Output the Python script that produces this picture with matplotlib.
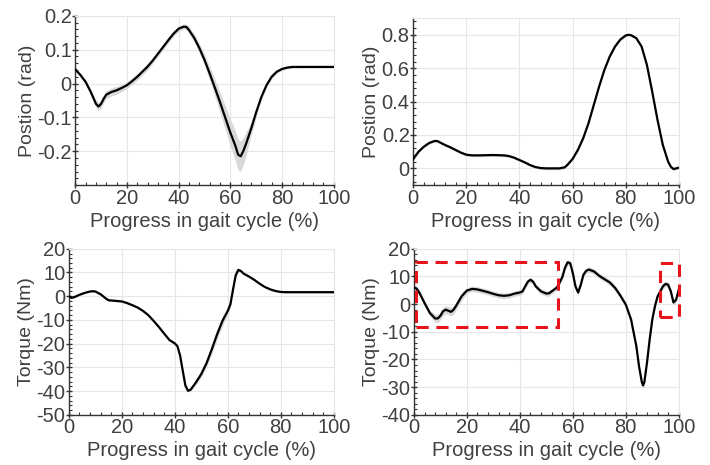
import numpy as np
import matplotlib
matplotlib.use('Agg')
from matplotlib import pyplot as plt
from matplotlib.ticker import AutoMinorLocator
from matplotlib.patches import Rectangle

plt.rcParams['font.family'] = ['Liberation Sans', 'DejaVu Sans']

# top left: hip position (rad)
hip_x = [0, 2, 4, 6, 8, 9, 10, 11, 12, 14, 16, 18, 20, 22, 24, 26, 28, 30, 32, 34, 36, 38, 40, 42, 43,
         44, 46, 48, 50, 52, 54, 56, 58, 60, 62, 63, 64, 65, 66, 68, 70, 72, 74, 76, 78, 80, 82, 84, 90, 100]
hip_pos = [0.042, 0.025, 0.005, -0.025, -0.06, -0.068, -0.06, -0.045, -0.033, -0.025, -0.02, -0.013, -0.005,
           0.007, 0.02, 0.035, 0.05, 0.068, 0.088, 0.108, 0.128, 0.147, 0.162, 0.168, 0.167,
           0.158, 0.135, 0.105, 0.07, 0.03, -0.012, -0.055, -0.1, -0.145, -0.185, -0.21, -0.215, -0.2, -0.18,
           -0.135, -0.085, -0.04, -0.005, 0.02, 0.035, 0.043, 0.047, 0.049, 0.049, 0.049]
hip_std = [0.005, 0.005, 0.006, 0.008, 0.012, 0.012, 0.012, 0.012, 0.012, 0.012, 0.012, 0.01, 0.01,
           0.01, 0.01, 0.01, 0.01, 0.008, 0.008, 0.008, 0.008, 0.008, 0.008, 0.008, 0.008,
           0.01, 0.012, 0.014, 0.016, 0.02, 0.025, 0.03, 0.035, 0.04, 0.045, 0.045, 0.045, 0.04, 0.035,
           0.02, 0.012, 0.008, 0.006, 0.006, 0.005, 0.004, 0.004, 0.004, 0.003, 0.003]

# top right: knee position (rad)
knee_x = [0, 2, 4, 6, 8, 9, 10, 12, 14, 16, 18, 20, 22, 25, 30, 34, 36, 38, 40, 42, 44, 46, 48, 50, 55,
          57, 58, 60, 62, 64, 66, 68, 70, 72, 74, 76, 78, 80, 81, 82, 84, 86, 88, 90, 92, 94, 96, 97, 98, 99, 100]
knee_pos = [0.056, 0.1, 0.13, 0.152, 0.164, 0.164, 0.156, 0.14, 0.126, 0.11, 0.094, 0.082, 0.078, 0.078,
            0.08, 0.078, 0.074, 0.064, 0.05, 0.036, 0.02, 0.008, 0.002, 0.0, 0.0,
            0.006, 0.02, 0.056, 0.11, 0.18, 0.27, 0.38, 0.49, 0.59, 0.67, 0.73, 0.772, 0.796, 0.8, 0.798,
            0.78, 0.73, 0.62, 0.46, 0.29, 0.14, 0.04, 0.01, -0.004, 0.0, 0.004]
knee_std = [0.008] * len(knee_x)

# bottom left: hip torque (Nm)
hipt_x = [0, 1, 2, 4, 6, 8, 9, 10, 12, 14, 15, 18, 20, 22, 24, 26, 28, 30, 32, 34, 36, 38, 40, 41, 42,
          43, 44, 45, 46, 48, 50, 52, 54, 56, 58, 60, 61, 62, 63, 64, 65, 66, 68, 70, 72, 74, 76, 78, 80,
          82, 90, 100]
hip_torque = [0, -0.7, -0.4, 0.6, 1.4, 2.0, 2.1, 2.0, 0.8, -1.0, -1.7, -2.0, -2.2, -2.9, -3.8, -4.8, -6.2,
              -8.0, -10.4, -13.0, -15.8, -18.5, -19.9, -21.1, -25.0, -31.4, -37.7, -39.9, -39.4, -36.3,
              -32.8, -28.2, -22.3, -16.0, -10.4, -6.2, -3.4, 2.9, 8.8, 11.1, 10.6, 9.5, 8.3, 6.9, 5.3, 3.9,
              2.9, 2.2, 1.8, 1.7, 1.7, 1.7]
hipt_std = [0.4] * 27 + [0.5, 0.6, 1.0, 1.4, 1.7, 1.9, 2.0, 2.0, 1.6, 1.2, 0.8, 0.6, 0.6] + [0.4] * 12

# bottom right: knee torque (Nm)
kneet_x = [0, 1, 2, 4, 6, 8, 9, 10, 11, 12, 13, 14, 15, 16, 18, 20, 22, 24, 26, 28, 30, 32, 34, 36, 38,
           40, 41, 42, 43, 44, 45, 46, 48, 50, 51, 52, 54, 55, 56, 57, 58, 59, 60, 61, 62, 63, 64, 65, 66,
           68, 70, 72, 74, 76, 78, 80, 82, 84, 85, 86, 86.5, 87, 88, 89, 90, 91, 92, 93, 94, 95, 96, 97,
           98, 99, 100]
knee_torque = [6.0, 5.6, 4.2, 0.4, -3.2, -5.2, -5.2, -4.2, -2.6, -2.0, -2.4, -2.8, -2.0, -0.5, 2.8, 4.9,
               5.5, 5.3, 4.8, 4.3, 3.7, 3.2, 3.0, 3.2, 3.8, 4.2, 4.6, 6.4, 8.1, 8.8, 8.1, 6.4, 4.6, 3.8,
               3.9, 4.6, 6.0, 7.8, 9.7, 13.0, 15.1, 14.8, 11.2, 6.4, 4.2, 7.0, 10.6, 12.0, 12.5, 11.8, 10.2,
               9.0, 7.8, 5.8, 3.0, -0.2, -5.6, -15.3, -22.5, -27.9, -29.4, -28.2, -21.2, -12.9, -5.6, -0.8,
               2.8, 4.6, 6.4, 7.3, 7.0, 4.6, 0.6, 1.6, 5.2]
kneet_std = [1.0] * 5 + [1.5] * 10 + [1.0] * 60

# dashed boxes on the knee torque panel
box_x0 = [0.9, 93.1]
box_x1 = [54.5, 100.2]
box_y0 = [-8.4, -4.7]
box_y1 = [15.4, 15.0]

panels = [
    (hip_x, hip_pos, hip_std, 'Postion (rad)', (-0.3, 0.2), [-0.2, -0.1, 0, 0.1, 0.2], ['-0.2', '-0.1', '0', '0.1', '0.2']),
    (knee_x, knee_pos, knee_std, 'Postion (rad)', (-0.1, 0.9), [0, 0.2, 0.4, 0.6, 0.8], ['0', '0.2', '0.4', '0.6', '0.8']),
    (hipt_x, hip_torque, hipt_std, 'Torque (Nm)', (-50, 20), list(range(-50, 21, 10)), [str(v) for v in range(-50, 21, 10)]),
    (kneet_x, knee_torque, kneet_std, 'Torque (Nm)', (-40, 20), list(range(-40, 21, 10)), [str(v) for v in range(-40, 21, 10)]),
]
rects = [
    [0.106, 0.602, 0.364, 0.364],
    [0.582, 0.602, 0.374, 0.359],
    [0.097, 0.108, 0.373, 0.357],
    [0.583, 0.108, 0.373, 0.357],
]

txt = '#404040'
fig = plt.figure(figsize=(7.1, 4.65), dpi=100)

for i, ((x, y, s, ylab, ylim, yt, ytl), r) in enumerate(zip(panels, rects)):
    ax = fig.add_axes(r)
    x = np.array(x)
    y = np.array(y)
    s = np.array(s)
    ax.fill_between(x, y - s, y + s, color='#d9d9d9', lw=0, zorder=2)
    ax.plot(x, y, color='black', lw=1.6, zorder=3)
    ax.set_xlim(0, 100)
    ax.set_ylim(*ylim)
    ax.set_xticks([0, 20, 40, 60, 80, 100])
    ax.set_yticks(yt)
    ax.set_yticklabels(ytl)
    ax.xaxis.set_minor_locator(AutoMinorLocator(5))
    ax.yaxis.set_minor_locator(AutoMinorLocator(5))
    ax.grid(True, which='major', color='#e6e6e6', lw=0.8, zorder=0)
    for sp in ['top', 'right']:
        ax.spines[sp].set_color('#e6e6e6')
        ax.spines[sp].set_linewidth(0.8)
    for sp in ['left', 'bottom']:
        ax.spines[sp].set_color('#333333')
        ax.spines[sp].set_linewidth(1.0)
    ax.tick_params(which='major', direction='inout', length=5, width=1, colors='#333333',
                   labelsize=14.5, labelcolor=txt, pad=0)
    ax.tick_params(which='minor', direction='in', length=2.5, width=0.8, colors='#333333')
    ax.set_xlabel('Progress in gait cycle (%)', fontsize=14.5, color=txt, labelpad=3)
    ax.set_ylabel(ylab, fontsize=14, color=txt, labelpad=1)
    ax.set_axisbelow(True)

    if i == 3:
        for bx0, bx1, by0, by1 in zip(box_x0, box_x1, box_y0, box_y1):
            ax.add_patch(Rectangle((bx0, by0), bx1 - bx0, by1 - by0, fill=False,
                                   edgecolor='#e8141c', lw=2.2, ls=(0, (4, 2.5)),
                                   clip_on=False, zorder=4))

fig.savefig('out.png', dpi=100)
